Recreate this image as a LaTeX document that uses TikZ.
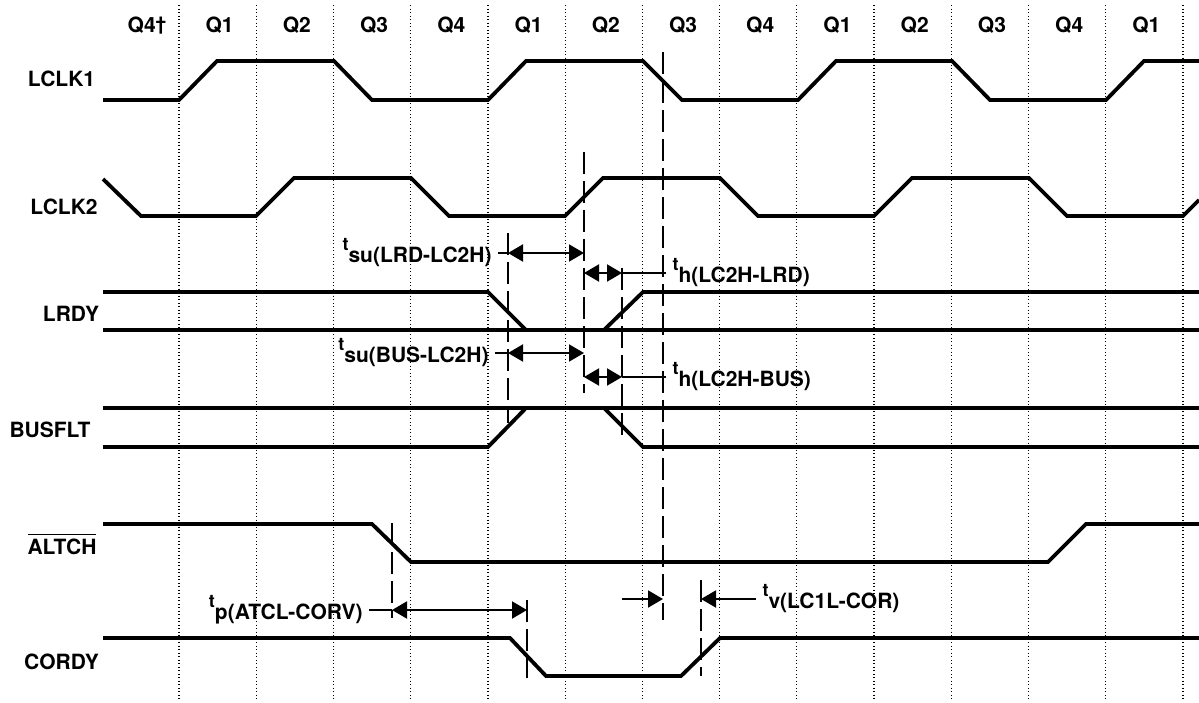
\documentclass[tikz,border=0pt]{standalone}
\usepackage{fontspec}
\setmainfont{TeX Gyre Heros}
\usepackage{tikz}
\usetikzlibrary{arrows.meta}
\tikzstyle{qline}=[line width=1.2,dash pattern=on 1.2pt off 2.3pt]
\tikzstyle{wave}=[line width=3.8]
\tikzstyle{marker}=[line width=2,dash pattern=on 22pt off 7pt]
\tikzstyle{timing}=[line width=2,>={Triangle[length=15pt,width=17pt]}]
\tikzstyle{sig}=[font=\fontsize{21}{23}\selectfont\bfseries,inner sep=0pt,anchor=base]
\tikzstyle{qlbl}=[sig]
\tikzstyle{tlbl}=[font=\fontsize{21}{23}\selectfont\bfseries,inner xsep=6pt,inner ysep=0pt]
\tikzset{every picture/.style={
    line width=1
  }
}
\newcommand{\tsub}[2]{\raisebox{12pt}{\fontsize{18}{18}\selectfont t}#1(#2)}
\newcommand{\olbar}[1]{\setbox0\hbox{#1}\rlap{\rule[\dimexpr\ht0+3pt\relax]{\wd0}{1.8pt}}\box0}

\begin{document}
\begin{tikzpicture}[x=1pt,y=-1pt]
      \useasboundingbox (0,0) rectangle (1199,702);
      \foreach \k in {0,...,13}
        \draw[qline] ({179+77.23*\k},5) -- ({179+77.23*\k},700);
      \node[qlbl] at (147,32) (q0) {Q4\raisebox{2pt}{\fontsize{19}{19}\selectfont †}};
      \foreach \q [count=\i] in {1,2,3,4,1,2,3,4,1,2,3,4,1}
        \node[qlbl] at ({142.4+77.23*\i},32) (q\i) {Q\q};

      \node[sig] at (61.5,86) (lclk1) {LCLK1};
      \node[sig] at (64,214) (lclk2) {LCLK2};
      \node[sig] at (71,321) (lrdy) {LRDY};
      \node[sig] at (50,437) (busflt) {BUSFLT};
      \node[sig] at (62,554) (altch) {\olbar{ALTCH}};
      \node[sig] at (61.5,669) (cordy) {CORDY};

      \draw[wave] (103,100) -- (179,100) -- (217,61) -- (334,61) -- (372,100) -- (488,100) -- (526,61) -- (643,61) -- (682,100) -- (798,100) -- (836,61) -- (952,61) -- (990,100) -- (1106,100) -- (1144,61) -- (1199,61);
      \draw[wave] (103,179) -- (141,216) -- (256,216) -- (294,178) -- (411,178) -- (449,216) -- (565,216) -- (603,178) -- (720,178) -- (758,216) -- (874,216) -- (912,178) -- (1029,178) -- (1067,216) -- (1183,216) -- (1199,200);
      \draw[wave] (103,292) -- (488,292) -- (526,330) (604,330) -- (643,292) -- (1199,292);
      \draw[wave] (103,330) -- (1199,330);
      \draw[wave] (103,408) -- (1199,408);
      \draw[wave] (103,447) -- (488,447) -- (526,408) (604,408) -- (643,447) -- (1199,447);
      \draw[wave] (103,524) -- (372,524) -- (411,562) -- (1048,562) -- (1086,524) -- (1199,524);
      \draw[wave] (103,638) -- (510,638) -- (546,676) -- (681,676) -- (720,638) -- (1199,638);

      \coordinate (m1) at (508,233); \coordinate (m1b) at (508,423);
      \coordinate (m2) at (584,152); \coordinate (m2b) at (584,393);
      \coordinate (m3) at (622,268); \coordinate (m3b) at (622,442);
      \coordinate (m4) at (663,52);  \coordinate (m4b) at (663,620);
      \coordinate (m5) at (392,523); \coordinate (m5b) at (392,618);
      \coordinate (m6) at (527,600); \coordinate (m6b) at (527,678);
      \coordinate (m7) at (701,580); \coordinate (m7b) at (701,676);
      \draw[marker] (m1) -- (m1b);
      \draw[marker] (m2) -- (m2b);
      \draw[marker] (m3) -- (m3b);
      \draw[marker] (m4) -- (m4b);
      \draw[marker] (m5) -- (m5b);
      \draw[marker] (m6) -- (m6b);
      \draw[marker] (m7) -- (m7b);

      \node[tlbl,anchor=east] at (498,253) (sulrd) {\tsub{su}{LRD-LC2H}};
      \draw[timing] (sulrd.east) -- (m1 |- sulrd.east);
      \draw[timing,<->] (m1 |- sulrd.east) -- (m2 |- sulrd.east);
      \node[tlbl,anchor=west] at (666,273) (hlrd) {\tsub{h}{LC2H-LRD}};
      \draw[timing,<->] (m2 |- hlrd.west) -- (m3 |- hlrd.west);
      \draw[timing] (m3 |- hlrd.west) -- (hlrd.west);

      \node[tlbl,anchor=east] at (495,353) (subus) {\tsub{su}{BUS-LC2H}};
      \draw[timing] (subus.east) -- (m1 |- subus.east);
      \draw[timing,<->] (m1 |- subus.east) -- (m2 |- subus.east);
      \node[tlbl,anchor=west] at (666,377) (hbus) {\tsub{h}{LC2H-BUS}};
      \draw[timing,<->] (m2 |- hbus.west) -- (m3 |- hbus.west);
      \draw[timing] (m3 |- hbus.west) -- (hbus.west);

      \node[tlbl,anchor=east] at (369,610) (patcl) {\tsub{p}{ATCL-CORV}};
      \draw[timing] (patcl.east) -- (m5 |- patcl.east);
      \draw[timing,<->] (m5 |- patcl.east) -- (m6 |- patcl.east);

      \node[tlbl,anchor=west] at (756,599) (vlc) {\tsub{v}{LC1L-COR}};
      \draw[timing,->] (vlc.west) -- (m7 |- vlc.west);
      \coordinate (vin) at (622,599);
      \draw[timing,->] (vin) -- (m4 |- vin);
    \end{tikzpicture}
\end{document}
